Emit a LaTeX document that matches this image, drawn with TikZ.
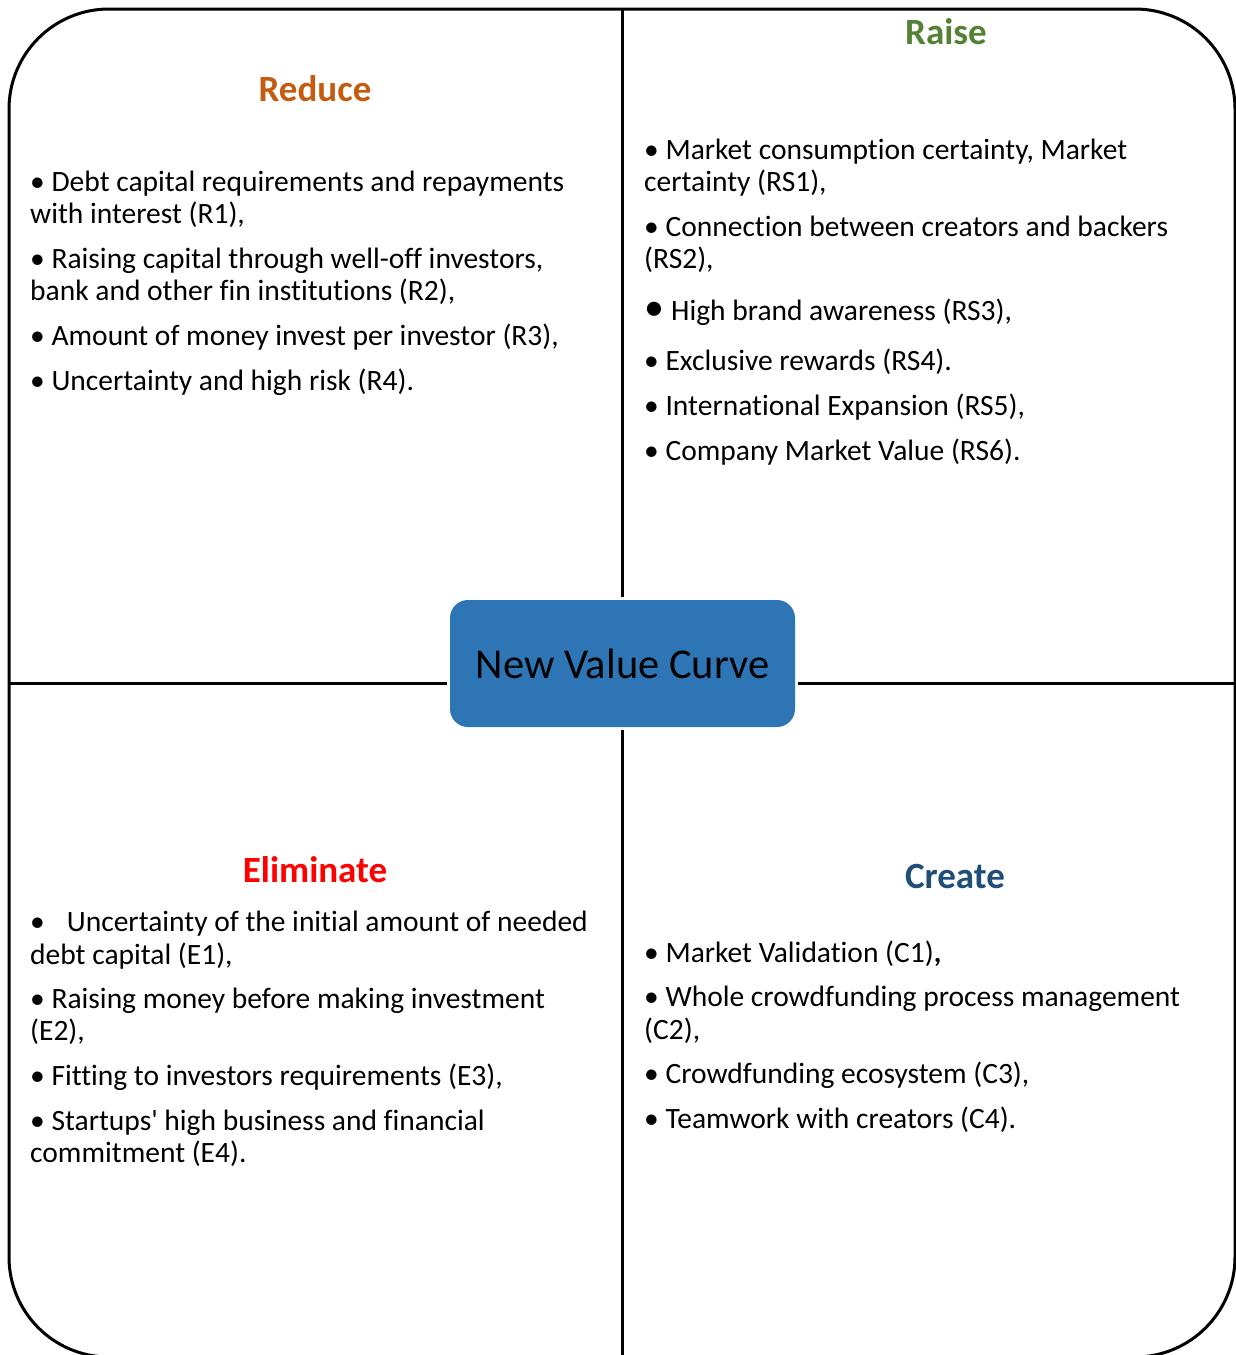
\documentclass[tikz,border=0pt]{standalone}
\usepackage{fontspec}
\setmainfont[Ligatures={NoCommon}]{Carlito}
\definecolor{reducec}{HTML}{C55A11}
\definecolor{raisec}{HTML}{548235}
\definecolor{elimc}{HTML}{FF0000}
\definecolor{createc}{HTML}{1F4E79}
\definecolor{boxblue}{HTML}{2E75B6}
\begin{document}
\begin{tikzpicture}[x=1pt,y=-1pt,
  frame/.style={line width=3pt,black},
  divider/.style={line width=3pt,black},
  heading/.style={font=\fontsize{37}{37}\selectfont\bfseries,anchor=base,inner sep=0pt},
  txt/.style={font=\fontsize{29.5}{32}\selectfont,anchor=base west,inner sep=0pt,text=black},
  centerbox/.style={rectangle,rounded corners=18pt,fill=boxblue,minimum width=345pt,
    minimum height=127pt,inner sep=0pt,outer sep=3pt,
    font=\fontsize{42.5}{42.5}\selectfont,text=black}]
\useasboundingbox (0,0) rectangle (1236,1355);
% outer frame
\draw[frame,rounded corners=100pt] (9,9) rectangle (1235,1357);
% centre box and the four dividers
\node[centerbox] (box) at (622.5,663.5) {New Value Curve};
\coordinate (top) at (622,9);
\coordinate (bottom) at (622,1357);
\coordinate (left) at (9,683);
\coordinate (right) at (1235,683);
\draw[divider] (box.north -| top) -- (top);
\draw[divider] (box.south -| bottom) -- (bottom);
\draw[divider] (box.west |- left) -- (left);
\draw[divider] (box.east |- right) -- (right);

% Reduce
\node[heading,text=reducec] (hreduce) at (315,101) {Reduce};
\node[txt] (r1a) at (30,191) {• Debt capital requirements and repayments};
\node[txt] (r1b) at (30,223) {with interest (R1),};
\node[txt] (r2a) at (30,268) {• Raising capital through well-off investors,};
\node[txt] (r2b) at (30,300) {bank and other fin institutions (R2),};
\node[txt] (r3) at (30,345) {• Amount of money invest per investor (R3),};
\node[txt] (r4) at (30,390) {• Uncertainty and high risk (R4).};

% Raise
\node[heading,text=raisec] (hraise) at (946,44) {Raise};
\node[txt] (s1a) at (644,159) {• Market consumption certainty, Market};
\node[txt] (s1b) at (644,191) {certainty (RS1),};
\node[txt] (s2a) at (644,236) {• Connection between creators and backers};
\node[txt] (s2b) at (644,268) {(RS2),};
\node[txt] (s3) at (644,320) {{\fontsize{40}{32}\selectfont •}\hspace{7pt}High brand awareness (RS3),};
\node[txt] (s4) at (644,370) {• Exclusive rewards (RS4).};
\node[txt] (s5) at (644,415) {• International Expansion (RS5),};
\node[txt] (s6) at (644,460) {• Company Market Value (RS6).};

% Eliminate
\node[heading,text=elimc] (helim) at (315,882) {Eliminate};
\node[txt] (e1a) at (30,931) {•\hspace{22pt}Uncertainty of the initial amount of needed};
\node[txt] (e1b) at (30,964) {debt capital (E1),};
\node[txt] (e2a) at (30,1008) {• Raising money before making investment};
\node[txt] (e2b) at (30,1040) {(E2),};
\node[txt] (e3) at (30,1085) {• Fitting to investors requirements (E3),};
\node[txt] (e4a) at (30,1130) {• Startups\textquotesingle{} high business and financial};
\node[txt] (e4b) at (30,1162) {commitment (E4).};

% Create
\node[heading,text=createc] (hcreate) at (955,888) {Create};
\node[txt] (c1) at (644,962) {• Market Validation (C1)\textbf{,}};
\node[txt] (c2a) at (644,1006) {• Whole crowdfunding process management};
\node[txt] (c2b) at (644,1039) {(C2),};
\node[txt] (c3) at (644,1083) {• Crowdfunding ecosystem (C3),};
\node[txt] (c4) at (644,1128) {• Teamwork with creators (C4).};
\end{tikzpicture}
\end{document}
